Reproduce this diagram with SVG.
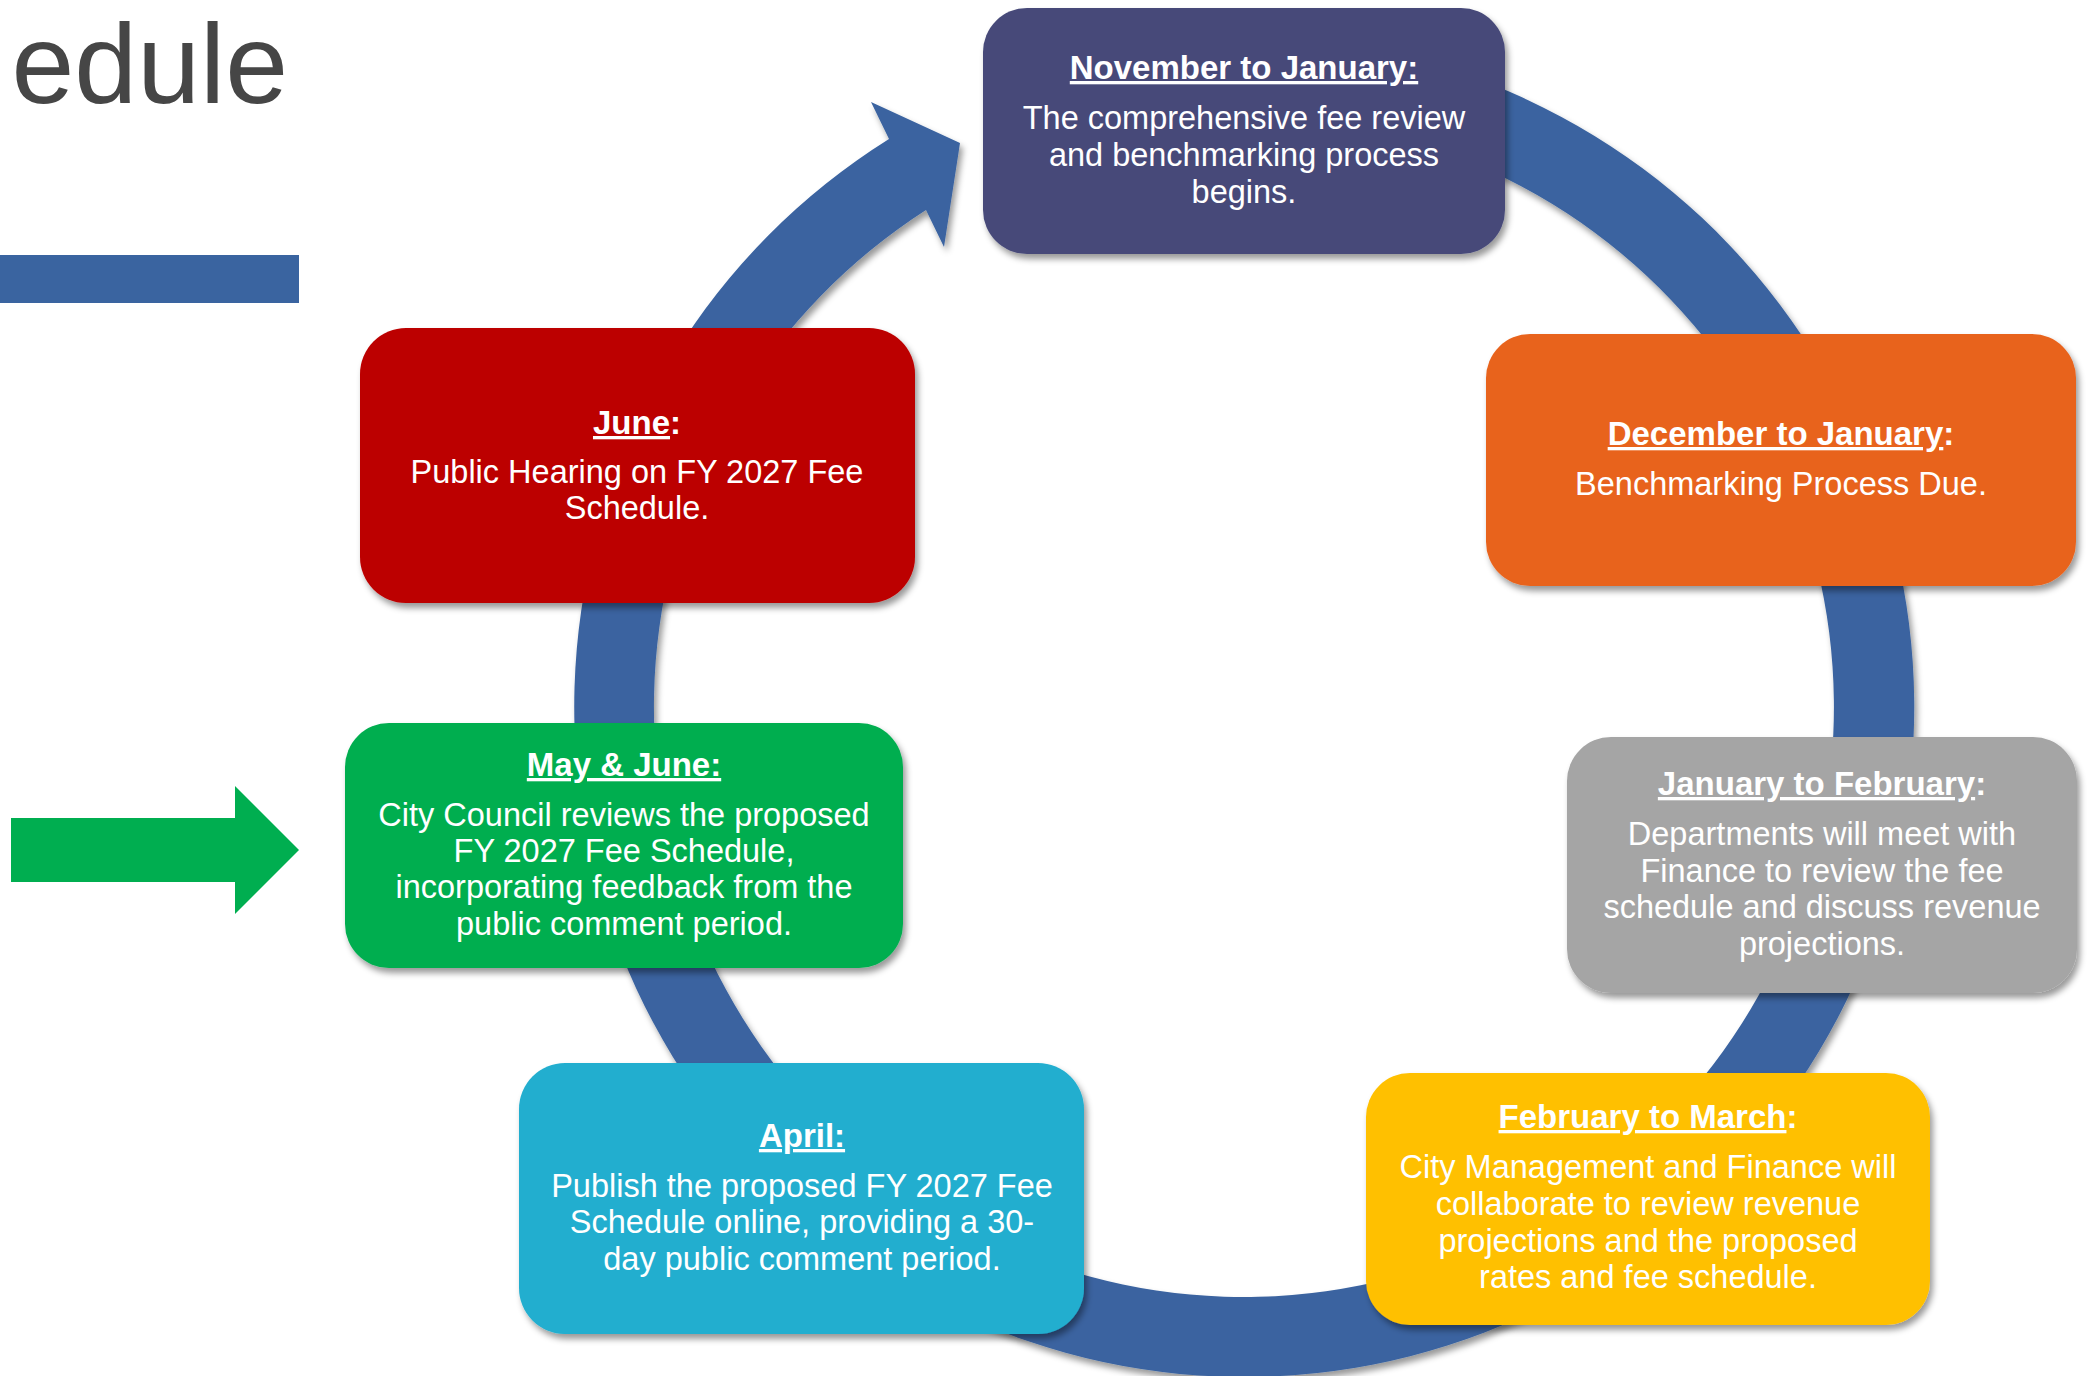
<svg xmlns="http://www.w3.org/2000/svg" width="2088" height="1376" viewBox="0 0 2088 1376">
<style>
.t{font-family:"Liberation Sans",Arial,sans-serif;font-size:32.5px;fill:#ffffff;text-anchor:middle}
.h{font-weight:bold;font-size:33px}
.u{text-decoration:underline}
</style>
<defs>
<filter id="sh" x="-10%" y="-10%" width="125%" height="130%">
<feDropShadow dx="3" dy="5" stdDeviation="3" flood-color="#000" flood-opacity="0.4"/>
</filter>
</defs>
<rect width="2088" height="1376" fill="#ffffff"/>
<text x="288" y="103" font-family="Liberation Sans, Arial, sans-serif" font-size="113" fill="#464646" text-anchor="end">edule</text>
<rect x="0" y="255" width="299" height="48" fill="#3A64A0"/>
<polygon points="11,818 235,818 235,786 299,850 235,914 235,882 11,882" fill="#00AE50"/>
<g id="connectors">
<path d="M 1360.3 47.2 A 670 670 0 1 1 889 139 L 871 102 L 960 143 L 944 247 L 926 210 A 590 590 0 1 0 1346.5 126 Z" fill="#3A63A0" filter="url(#sh)"/>
</g>
<g id="nov">
<rect x="983" y="8" width="522" height="246" rx="44" fill="#474A79" filter="url(#sh)"/>
<text class="t h" x="1244" y="79"><tspan class="u">November to January:</tspan></text>
<text class="t" x="1244" y="129">The comprehensive fee review</text>
<text class="t" x="1244" y="166">and benchmarking process</text>
<text class="t" x="1244" y="203">begins.</text>
</g>
<g id="dec">
<rect x="1486" y="334" width="590" height="252" rx="44" fill="#E8641E" filter="url(#sh)"/>
<text class="t h" x="1781" y="445"><tspan class="u">December to January</tspan>:</text>
<text class="t" x="1781" y="495">Benchmarking Process Due.</text>
</g>
<g id="jan">
<rect x="1567" y="737" width="510" height="256" rx="44" fill="#A5A5A5" filter="url(#sh)"/>
<text class="t h" x="1822" y="795"><tspan class="u">January to February</tspan>:</text>
<text class="t" x="1822" y="845">Departments will meet with</text>
<text class="t" x="1822" y="882">Finance to review the fee</text>
<text class="t" x="1822" y="918">schedule and discuss revenue</text>
<text class="t" x="1822" y="955">projections.</text>
</g>
<g id="feb">
<rect x="1366" y="1073" width="564" height="252" rx="44" fill="#FFC000" filter="url(#sh)"/>
<text class="t h" x="1648" y="1128"><tspan class="u">February to March</tspan>:</text>
<text class="t" x="1648" y="1178">City Management and Finance will</text>
<text class="t" x="1648" y="1215">collaborate to review revenue</text>
<text class="t" x="1648" y="1252">projections and the proposed</text>
<text class="t" x="1648" y="1288">rates and fee schedule.</text>
</g>
<g id="apr">
<rect x="519" y="1063" width="565" height="271" rx="46" fill="#21AECF" filter="url(#sh)"/>
<text class="t h" x="802" y="1147"><tspan class="u">April:</tspan></text>
<text class="t" x="802" y="1197">Publish the proposed FY 2027 Fee</text>
<text class="t" x="802" y="1233">Schedule online, providing a 30-</text>
<text class="t" x="802" y="1270">day public comment period.</text>
</g>
<g id="may">
<rect x="345" y="723" width="558" height="245" rx="44" fill="#00AE50" filter="url(#sh)"/>
<text class="t h" x="624" y="776"><tspan class="u">May &amp; June:</tspan></text>
<text class="t" x="624" y="826">City Council reviews the proposed</text>
<text class="t" x="624" y="862">FY 2027 Fee Schedule,</text>
<text class="t" x="624" y="898">incorporating feedback from the</text>
<text class="t" x="624" y="935">public comment period.</text>
</g>
<g id="jun">
<rect x="360" y="328" width="555" height="275" rx="46" fill="#BC0000" filter="url(#sh)"/>
<text class="t h" x="637" y="434"><tspan class="u">June</tspan>:</text>
<text class="t" x="637" y="483">Public Hearing on FY 2027 Fee</text>
<text class="t" x="637" y="519">Schedule.</text>
</g>
</svg>
